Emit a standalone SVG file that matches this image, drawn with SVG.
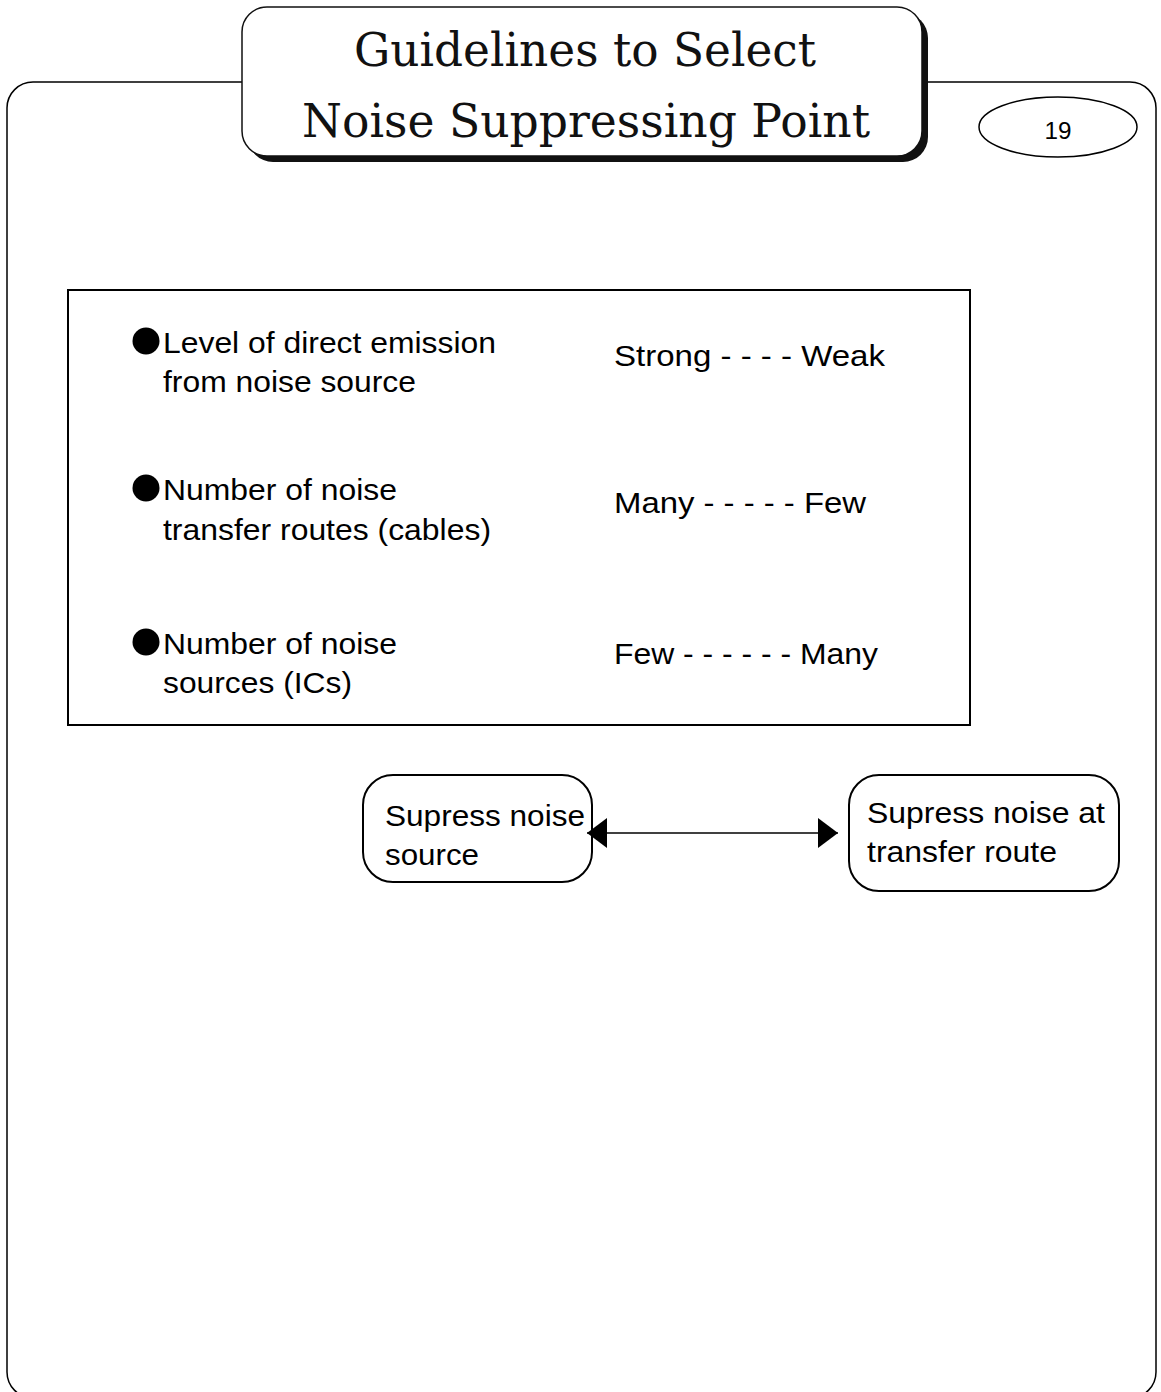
<svg xmlns="http://www.w3.org/2000/svg" width="1161" height="1392" viewBox="0 0 1161 1392">
<style>
.ln{fill:none;stroke:#000;stroke-width:1.5}
.t{font-family:"Liberation Sans",Arial,sans-serif;font-size:29px;fill:#000}
.ttl{font-family:"DejaVu Serif","Liberation Serif",serif;font-size:46px;fill:#111;text-anchor:middle}
.node{fill:#fff;stroke:#000;stroke-width:2}
</style>
<defs>
<marker id="ah" viewBox="0 0 20 30" refX="20" refY="15" markerWidth="20" markerHeight="30" markerUnits="userSpaceOnUse" orient="auto-start-reverse">
<path d="M0,0 L20,15 L0,30 Z" fill="#000"/>
</marker>
</defs>
<rect width="1161" height="1392" fill="#fff"/>
<g id="frame">
<rect class="ln" x="7" y="82" width="1149" height="1316" rx="26"/>
</g>
<g id="title">
<rect x="248" y="13" width="680" height="149" rx="25" fill="#111"/>
<rect x="242" y="7" width="680" height="149" rx="25" fill="#fff" stroke="#111" stroke-width="1.5"/>
<text class="ttl" x="585" y="66" textLength="462" lengthAdjust="spacingAndGlyphs">Guidelines to Select</text>
<text class="ttl" x="586" y="137" textLength="568" lengthAdjust="spacingAndGlyphs">Noise Suppressing Point</text>
</g>
<g id="page">
<ellipse cx="1058" cy="127" rx="79" ry="30" fill="#fff" stroke="#000" stroke-width="1.5"/>
<text x="1058" y="139" font-family="Liberation Sans,Arial,sans-serif" font-size="24" text-anchor="middle" textLength="27" lengthAdjust="spacingAndGlyphs">19</text>
</g>
<g id="criteria">
<rect x="68" y="290" width="902" height="435" fill="none" stroke="#000" stroke-width="2"/>
<circle cx="146" cy="341" r="13.5"/>
<text class="t" x="163" y="353" textLength="333" lengthAdjust="spacingAndGlyphs">Level of direct emission</text>
<text class="t" x="163" y="392" textLength="253" lengthAdjust="spacingAndGlyphs">from noise source</text>
<text class="t" x="614" y="366" textLength="271" lengthAdjust="spacingAndGlyphs">Strong - - - -  Weak</text>
<circle cx="146" cy="488" r="13.5"/>
<text class="t" x="163" y="500" textLength="234" lengthAdjust="spacingAndGlyphs">Number of noise</text>
<text class="t" x="163" y="540" textLength="328" lengthAdjust="spacingAndGlyphs">transfer routes (cables)</text>
<text class="t" x="614" y="513" textLength="252" lengthAdjust="spacingAndGlyphs">Many - - - - -  Few</text>
<circle cx="146" cy="642" r="13.5"/>
<text class="t" x="163" y="654" textLength="234" lengthAdjust="spacingAndGlyphs">Number of noise</text>
<text class="t" x="163" y="693" textLength="189" lengthAdjust="spacingAndGlyphs">sources (ICs)</text>
<text class="t" x="614" y="664" textLength="264" lengthAdjust="spacingAndGlyphs">Few - - - - - - Many</text>
</g>
<g id="node-source">
<rect class="node" x="363" y="775" width="229" height="107" rx="30"/>
<text class="t" x="385" y="826" textLength="200" lengthAdjust="spacingAndGlyphs">Supress noise</text>
<text class="t" x="385" y="865" textLength="94" lengthAdjust="spacingAndGlyphs">source</text>
</g>
<g id="node-route">
<rect class="node" x="849" y="775" width="270" height="116" rx="30"/>
<text class="t" x="867" y="823" textLength="238" lengthAdjust="spacingAndGlyphs">Supress noise at</text>
<text class="t" x="867" y="862" textLength="190" lengthAdjust="spacingAndGlyphs">transfer route</text>
</g>
<g id="connectors">
<line x1="587" y1="833" x2="838" y2="833" stroke="#000" stroke-width="1.5" marker-start="url(#ah)" marker-end="url(#ah)"/>
</g>
</svg>
